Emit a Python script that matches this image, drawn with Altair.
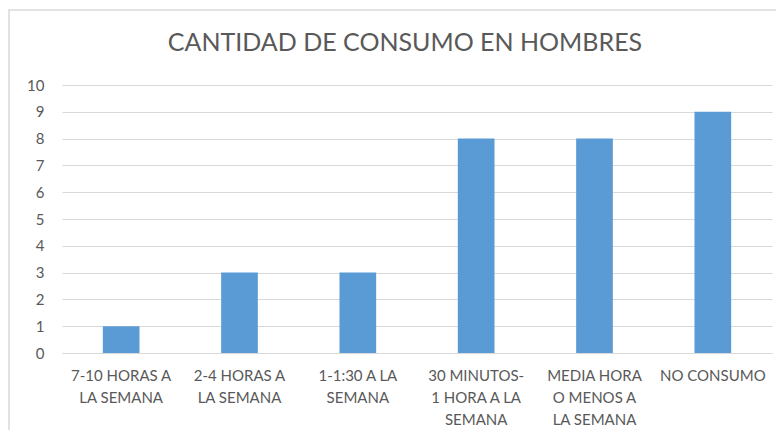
import altair as alt
import pandas as pd

categories = [
    "7-10 HORAS A|LA SEMANA",
    "2-4 HORAS A|LA SEMANA",
    "1-1:30 A LA|SEMANA",
    "30 MINUTOS-|1 HORA A LA|SEMANA",
    "MEDIA HORA|O MENOS A|LA SEMANA",
    "NO CONSUMO",
]
values = [1, 3, 3, 8, 8, 9]
title_text = "CANTIDAD DE CONSUMO EN HOMBRES"

df = pd.DataFrame({"cat": categories, "val": values})

FONT = "Lato"
GREY = "#595959"

border = alt.Chart(pd.DataFrame({"a": [0]})).mark_rect(
    fill=None, stroke="#d9d9d9", strokeWidth=1.5
).encode(
    x=alt.value(-53), x2=alt.value(800), y=alt.value(-75), y2=alt.value(400)
)

bars = alt.Chart(df).mark_bar(color="#5b9bd5").encode(
    x=alt.X(
        "cat:N",
        sort=categories,
        scale=alt.Scale(paddingInner=0.69, paddingOuter=0.345),
        axis=alt.Axis(
            title=None,
            labelAngle=0,
            labelExpr="split(datum.label, '|')",
            labelFont=FONT,
            labelFontSize=15,
            labelColor=GREY,
            labelLineHeight=22,
            labelPadding=15,
            ticks=False,
            domainColor="#d9d9d9",
            labelLimit=200,
        ),
    ),
    y=alt.Y(
        "val:Q",
        scale=alt.Scale(domain=[0, 10]),
        axis=alt.Axis(
            title=None,
            values=list(range(0, 11)),
            labelFont=FONT,
            labelFontSize=15,
            labelColor=GREY,
            labelPadding=18,
            ticks=False,
            domain=False,
            gridColor="#d9d9d9",
            gridWidth=1,
        ),
    ),
)

chart = alt.layer(border, bars).properties(
    width=710,
    height=268,
    autosize=alt.AutoSizeParams(type="none"),
    padding={"left": 54, "top": 77, "right": 4, "bottom": 77},
    title=alt.TitleParams(
        title_text,
        font=FONT,
        fontSize=25,
        fontWeight="normal",
        color=GREY,
        anchor="middle",
        dx=-12,
        offset=-47,
    ),
).configure_view(stroke=None)

chart.save("out.html", embed_options={"renderer": "svg", "actions": False})
